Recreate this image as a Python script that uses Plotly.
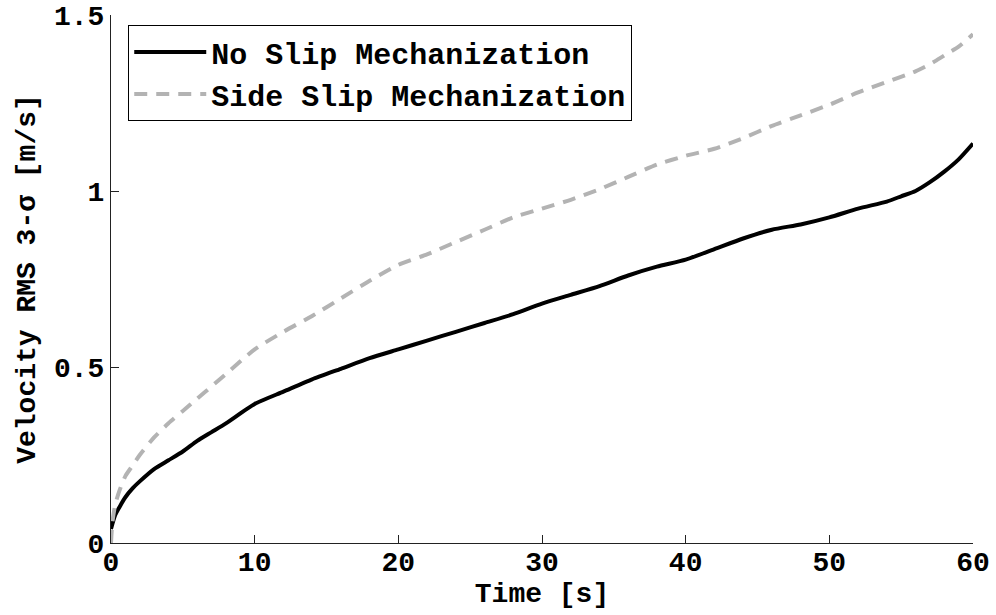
import plotly.graph_objects as go

time_no_slip = [0, 0.3, 0.7, 1, 1.5, 2, 3, 4, 5, 6, 7, 8, 10, 12, 14, 16, 18, 20, 22, 24, 26, 28, 30, 32, 34, 36, 38, 40, 42, 44, 46, 48, 50, 52, 54, 55, 56, 57, 58, 59, 60]
vel_no_slip = [0.04, 0.08, 0.11, 0.13, 0.155, 0.175, 0.21, 0.235, 0.26, 0.29, 0.315, 0.34, 0.395, 0.43, 0.465, 0.495, 0.525, 0.55, 0.575, 0.6, 0.625, 0.65, 0.68, 0.705, 0.73, 0.76, 0.785, 0.805, 0.835, 0.865, 0.89, 0.905, 0.925, 0.95, 0.97, 0.985, 1.0, 1.025, 1.055, 1.09, 1.135]

time_side_slip = [0, 0.1, 0.3, 0.6, 1, 1.5, 2, 3, 4, 5, 6, 7, 8, 10, 12, 14, 16, 18, 20, 22, 24, 26, 28, 30, 32, 34, 36, 38, 40, 42, 44, 46, 48, 50, 52, 54, 56, 57, 58, 59, 60]
vel_side_slip = [0.0, 0.06, 0.11, 0.15, 0.19, 0.22, 0.25, 0.3, 0.34, 0.375, 0.41, 0.445, 0.48, 0.55, 0.6, 0.645, 0.695, 0.745, 0.79, 0.82, 0.855, 0.89, 0.925, 0.95, 0.975, 1.005, 1.04, 1.075, 1.1, 1.12, 1.15, 1.185, 1.215, 1.245, 1.28, 1.31, 1.34, 1.36, 1.385, 1.41, 1.445]

x_ticks = [0, 10, 20, 30, 40, 50, 60]
y_ticks = [0, 0.5, 1, 1.5]
y_tick_labels = ["0", "0.5", "1", "1.5"]

FONT = "Liberation Mono"
FS = 28

fig = go.Figure()
fig.add_trace(go.Scatter(
    x=time_no_slip, y=vel_no_slip, mode="lines", name="No Slip Mechanization",
    line=dict(color="black", width=4, shape="spline", smoothing=0.6)))
fig.add_trace(go.Scatter(
    x=time_side_slip, y=vel_side_slip, mode="lines", name="Side Slip Mechanization",
    line=dict(color="#b3b3b3", width=4, dash="13px,9px", shape="spline", smoothing=0.6)))

axis_common = dict(
    showline=True, linecolor="#222222", linewidth=1, mirror=False,
    ticks="inside", ticklen=8, tickcolor="#222222", tickwidth=1,
    showgrid=False, zeroline=False, automargin=False,
    tickfont=dict(family=FONT, size=FS, color="black", weight="bold"),
)

fig.update_layout(
    width=996, height=615,
    margin=dict(l=111, r=23, t=15, b=72),
    paper_bgcolor="white", plot_bgcolor="white",
    font=dict(family=FONT, color="black"),
    xaxis=dict(range=[0, 60], tickvals=x_ticks, ticklabelstandoff=-7,
               title=dict(text="Time [s]", font=dict(family=FONT, size=FS, weight="bold"), standoff=0),
               **axis_common),
    yaxis=dict(range=[0, 1.5], tickvals=y_ticks, ticktext=y_tick_labels,
               title=dict(text="Velocity RMS 3-σ [m/s]", font=dict(family=FONT, size=FS, weight="bold"), standoff=10),
               **axis_common),
    legend=dict(x=0.02, y=0.981, xanchor="left", yanchor="top",
                bordercolor="black", borderwidth=1, bgcolor="white",
                font=dict(family=FONT, size=30, color="black", weight="bold"),
                itemwidth=72, tracegroupgap=0),
    showlegend=True,
)

fig.write_html("out.html")
